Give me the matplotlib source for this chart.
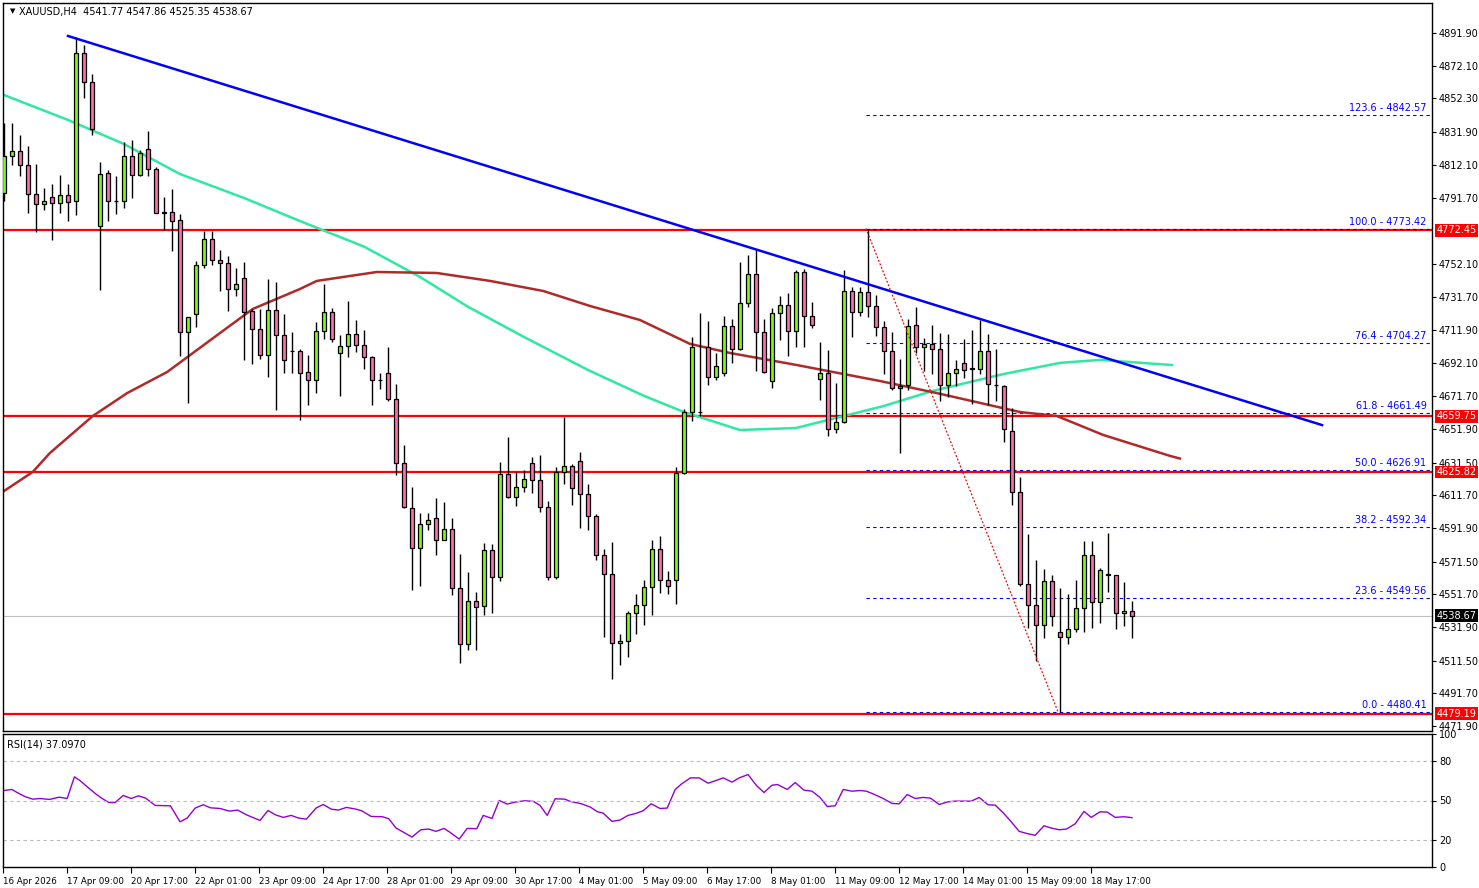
import numpy as np
import matplotlib.pyplot as plt

# ── OHLC data (XAUUSD H4) ─────────────────────────────────────────
opens = [4795.0, 4817.5, 4820.3, 4811.9, 4794.1, 4788.5, 4792.4, 4788.8, 4793.6, 4790.2,
         4879.6, 4862.1, 4774.7, 4807.1, 4790.2, 4790.2, 4817.5, 4805.7, 4821.8, 4809.4,
         4783.1, 4783.4, 4778.6, 4710.7, 4721.4, 4751.3, 4767.1, 4754.1, 4752.4, 4736.6,
         4743.4, 4723.6, 4712.3, 4696.6, 4724.2, 4709.0, 4699.1, 4699.1, 4686.4, 4681.6,
         4711.2, 4723.1, 4697.7, 4702.5, 4709.8, 4702.8, 4695.7, 4681.6, 4685.6, 4670.3,
         4631.4, 4604.1, 4579.8, 4594.2, 4598.1, 4584.9, 4591.1, 4555.3, 4521.7, 4547.4,
         4544.8, 4578.7, 4562.3, 4624.9, 4610.8, 4616.5, 4631.4, 4620.7, 4604.9, 4562.3,
         4625.8, 4629.2, 4632.8, 4612.5, 4599.0, 4575.6, 4563.7, 4522.0, 4523.4, 4540.3,
         4545.4, 4556.1, 4579.2, 4560.1, 4560.1, 4625.2, 4662.4, 4662.0, 4701.9, 4683.6,
         4685.8, 4714.6, 4700.5, 4728.1, 4745.6, 4710.7, 4680.8, 4722.2, 4727.3, 4711.2,
         4747.0, 4720.2, 4682.2, 4685.6, 4652.0, 4655.9, 4735.7, 4723.1, 4735.2, 4726.7,
         4713.8, 4699.1, 4678.0, 4678.5, 4715.2, 4701.9, 4703.3, 4700.5, 4678.5, 4685.6,
         4692.0, 4688.6, 4688.4, 4699.1, 4678.5, 4678.0, 4650.6, 4613.9, 4558.1, 4545.4,
         4533.3, 4559.5, 4529.0, 4525.7, 4530.7, 4543.1, 4575.6, 4546.8, 4563.4, 4563.4,
         4540.3, 4541.77]
highs = [4837.3, 4837.3, 4830.2, 4823.2, 4812.7, 4797.8, 4800.6, 4805.7, 4800.6, 4889.4,
         4884.6, 4866.9, 4813.9, 4809.1, 4805.4, 4826.0, 4827.4, 4821.2, 4832.5, 4810.5,
         4792.7, 4797.2, 4782.3, 4719.7, 4753.5, 4771.8, 4771.8, 4760.6, 4756.9, 4749.3,
         4753.2, 4724.5, 4724.5, 4742.8, 4740.8, 4721.6, 4710.9, 4700.5, 4696.8, 4716.9,
         4740.0, 4725.3, 4709.0, 4729.5, 4718.3, 4711.8, 4696.3, 4685.6, 4701.6, 4679.1,
         4642.1, 4616.5, 4601.0, 4601.0, 4610.3, 4607.4, 4598.1, 4576.4, 4565.1, 4553.0,
         4582.6, 4582.1, 4632.0, 4646.9, 4625.8, 4627.2, 4635.1, 4636.2, 4608.0, 4628.6,
         4659.0, 4630.8, 4637.9, 4618.7, 4600.4, 4579.2, 4583.5, 4527.6, 4541.7, 4551.6,
         4560.1, 4584.9, 4586.9, 4565.7, 4628.6, 4663.8, 4707.5, 4722.5, 4717.4, 4698.2,
         4720.2, 4718.5, 4753.2, 4757.5, 4761.1, 4718.8, 4725.3, 4732.4, 4734.3, 4748.4,
         4749.0, 4728.7, 4704.7, 4699.9, 4679.9, 4748.4, 4738.0, 4738.0, 4773.4, 4732.9,
         4717.4, 4710.9, 4694.3, 4718.8, 4725.9, 4707.0, 4715.2, 4710.4, 4709.8, 4694.0,
         4706.7, 4711.8, 4718.0, 4709.8, 4700.5, 4678.5, 4664.7, 4622.9, 4588.3, 4572.2,
         4567.1, 4563.2, 4555.3, 4551.6, 4560.1, 4584.3, 4584.3, 4567.4, 4589.1, 4563.4,
         4558.9, 4547.86]
lows = [4790.2, 4811.9, 4805.4, 4782.8, 4771.6, 4784.5, 4766.8, 4782.8, 4778.0, 4781.4,
        4852.8, 4830.2, 4736.3, 4778.3, 4782.3, 4785.7, 4792.1, 4805.4, 4805.4, 4782.8,
        4772.4, 4759.7, 4696.0, 4667.5, 4714.0, 4749.3, 4751.3, 4735.5, 4723.3, 4732.4,
        4694.0, 4691.2, 4694.3, 4683.6, 4663.3, 4685.8, 4685.8, 4657.4, 4666.7, 4673.7,
        4706.7, 4704.7, 4671.7, 4695.4, 4698.5, 4688.4, 4666.7, 4676.2, 4668.9, 4623.8,
        4604.1, 4554.4, 4556.7, 4590.5, 4575.6, 4584.9, 4551.0, 4510.1, 4517.8, 4518.0,
        4539.2, 4540.3, 4559.5, 4610.3, 4605.2, 4613.6, 4613.1, 4601.8, 4560.1, 4560.9,
        4618.7, 4606.0, 4591.9, 4590.5, 4572.2, 4525.7, 4500.3, 4508.7, 4513.5, 4527.9,
        4533.3, 4539.2, 4552.4, 4551.6, 4546.0, 4624.4, 4656.8, 4659.6, 4678.5, 4681.9,
        4684.1, 4692.0, 4699.9, 4725.9, 4687.0, 4685.6, 4676.5, 4706.1, 4696.3, 4701.9,
        4701.9, 4713.2, 4669.5, 4647.5, 4649.2, 4655.4, 4707.5, 4720.2, 4719.7, 4708.4,
        4685.0, 4675.7, 4637.6, 4675.7, 4698.2, 4687.0, 4685.0, 4668.9, 4671.5, 4677.9,
        4683.0, 4667.2, 4685.0, 4666.7, 4668.9, 4644.1, 4606.0, 4556.7, 4531.3, 4511.0,
        4525.1, 4532.7, 4480.4, 4521.4, 4529.0, 4529.0, 4531.3, 4534.1, 4553.3, 4530.7,
        4532.7, 4525.35]
closes = [4817.5, 4820.3, 4811.9, 4794.1, 4788.5, 4790.2, 4788.8, 4793.6, 4789.6, 4879.6,
          4862.1, 4833.9, 4806.8, 4789.9, 4790.0, 4817.5, 4806.2, 4819.5, 4809.4, 4783.1,
          4783.0, 4778.3, 4710.7, 4719.7, 4751.3, 4767.1, 4754.1, 4752.4, 4736.6, 4739.7,
          4722.8, 4712.3, 4696.6, 4724.2, 4709.0, 4694.0, 4699.0, 4685.8, 4681.6, 4711.2,
          4723.1, 4706.7, 4702.5, 4709.8, 4702.8, 4695.7, 4681.6, 4681.5, 4670.3, 4631.4,
          4604.6, 4579.8, 4594.2, 4596.7, 4584.9, 4591.1, 4555.3, 4521.7, 4547.4, 4543.7,
          4578.7, 4562.3, 4624.9, 4610.8, 4616.5, 4621.8, 4620.7, 4604.9, 4562.3, 4625.8,
          4629.2, 4615.9, 4612.5, 4599.0, 4575.6, 4563.7, 4522.0, 4523.4, 4540.3, 4545.4,
          4556.1, 4579.2, 4560.1, 4556.7, 4625.2, 4662.4, 4701.9, 4662.4, 4683.6, 4690.1,
          4714.6, 4700.5, 4728.1, 4745.6, 4710.7, 4686.4, 4722.2, 4727.3, 4711.2, 4747.0,
          4720.2, 4715.2, 4685.6, 4652.0, 4655.9, 4735.7, 4723.1, 4734.9, 4726.7, 4713.8,
          4699.1, 4676.5, 4677.0, 4714.6, 4701.9, 4703.3, 4700.5, 4678.5, 4685.6, 4688.4,
          4687.8, 4688.4, 4699.1, 4679.3, 4678.4, 4652.0, 4613.9, 4558.1, 4545.4, 4533.3,
          4559.5, 4538.3, 4525.7, 4530.7, 4543.1, 4575.6, 4546.8, 4566.3, 4563.3, 4540.3,
          4541.7, 4538.67]

# moving averages, sampled along the drawn lines (bar index, price)
ma_fast_idx = [0, 8, 15, 22, 30, 37, 45, 52, 58, 65, 73, 80, 85, 92, 99, 105, 110, 116, 125,
               132, 137, 146]
ma_fast_val = [4854.4, 4839.3, 4824.7, 4806.5, 4792.0, 4778.0, 4762.5, 4744.1, 4726.0, 4707.7,
               4687.7, 4672.0, 4662.2, 4651.3, 4652.5, 4659.8, 4665.9, 4674.9, 4685.3, 4692.0,
               4693.8, 4690.7]
ma_slow_idx = [0, 3.6, 5.75, 11.1, 15.4, 20.4, 27, 31.1, 37, 39.1, 46.6, 54.1, 60.75, 67.4,
               73.25, 79.5, 85.75, 90.75, 99.1, 109.5, 116.6, 127, 131.6, 137.4, 145.75, 147]
ma_slow_val = [4614.3, 4625.9, 4637.4, 4659.8, 4673.7, 4686.5, 4710.1, 4724.7, 4736.8, 4741.7,
               4747.1, 4746.5, 4741.7, 4735.6, 4726.5, 4718.0, 4703.5, 4698.0, 4690.7, 4681.0,
               4673.7, 4662.2, 4659.8, 4648.3, 4635.6, 4634.0]

# RSI(14), sampled along the drawn line
rsi_idx = [0, 1, 1.4, 2.6, 3.6, 4.5, 5.7, 6.9, 7.9, 8.8, 9.5, 10.5, 11.5, 12.2, 13.1, 13.9, 14.9,
           15.9, 16.8, 17.7, 18.9, 20.8, 22.0, 22.9, 23.9, 24.9, 25.8, 27.0, 28.2, 29.2, 30.4,
           32.0, 33.0, 33.9, 34.9, 35.9, 36.8, 37.8, 39.0, 39.9, 40.9, 41.8, 42.8, 44.0, 44.7,
           45.9, 47.3, 48.1, 49.0, 51.0, 52.1, 53.1, 54.0, 55.0, 55.7, 56.9, 57.9, 59.1, 59.9,
           61.0, 61.9, 62.9, 63.9, 65.1, 66.2, 67.0, 67.9, 68.9, 70.1, 70.8, 72.2, 73.3, 74.2,
           74.9, 76.0, 77.0, 78.0, 79.0, 79.9, 80.9, 82.0, 82.9, 83.9, 84.7, 85.8, 86.9, 88.0,
           89.0, 89.9, 91.0, 91.9, 93.0, 94.1, 95.0, 96.0, 96.7, 97.9, 98.9, 100.0, 101.0,
           102.0, 102.9, 103.9, 104.9, 106.0, 107.0, 107.8, 108.7, 109.9, 111.0, 111.9, 112.9,
           113.9, 114.9, 115.8, 116.9, 118.0, 118.9, 120.9, 121.9, 123.0, 123.9, 124.9, 125.9,
           126.9, 127.8, 128.9, 130.0, 130.9, 131.9, 132.8, 133.9, 135.0, 135.9, 137.0, 137.9,
           138.9, 140.0, 141.0]
rsi_val = [57.5, 58.3, 56.8, 53.0, 51.0, 51.5, 50.8, 52.5, 51.5, 67.8, 65.0, 59.8, 54.8, 51.8,
           48.5, 48.5, 53.8, 51.5, 53.5, 51.8, 46.3, 46.0, 34.0, 36.8, 44.3, 46.8, 44.5, 44.0,
           42.0, 42.8, 39.0, 35.0, 42.5, 39.3, 37.3, 38.8, 36.8, 36.0, 44.3, 47.0, 43.5, 42.8,
           44.8, 43.5, 42.3, 38.0, 37.8, 36.3, 29.3, 22.5, 28.0, 28.5, 26.8, 29.0, 26.3, 21.0,
           29.0, 28.8, 38.8, 36.5, 50.0, 47.3, 48.8, 49.8, 49.3, 46.3, 38.8, 51.3, 51.0, 49.3,
           47.5, 45.0, 41.5, 40.5, 34.3, 35.3, 38.8, 40.3, 42.3, 47.5, 44.0, 44.3, 58.3, 62.5,
           67.0, 67.0, 63.0, 65.0, 67.0, 63.8, 67.0, 69.5, 61.0, 56.0, 61.5, 62.0, 58.3, 63.5,
           57.8, 57.0, 52.3, 45.5, 46.0, 58.3, 57.0, 57.5, 57.0, 54.8, 51.5, 47.8, 47.5, 54.5,
           51.5, 52.3, 51.8, 47.0, 49.0, 49.5, 49.5, 52.3, 46.8, 46.5, 40.8, 34.0, 26.8, 25.3,
           23.8, 31.0, 29.3, 28.0, 28.5, 32.5, 41.8, 37.3, 41.5, 41.3, 37.3, 37.8, 37.1]

# levels
red_levels = [4772.45, 4659.75, 4625.82, 4479.19]
fib_pct = ["123.6", "100.0", "76.4", "61.8", "50.0", "38.2", "23.6", "0.0"]
fib_vals = [4842.57, 4773.42, 4704.27, 4661.49, 4626.91, 4592.34, 4549.56, 4480.41]
last_price = 4538.67

y_ticks = [4891.90, 4872.10, 4852.30, 4831.90, 4812.10, 4791.70, 4752.10, 4731.70, 4711.90,
           4692.10, 4671.70, 4651.90, 4631.50, 4611.70, 4591.90, 4571.50, 4551.70, 4531.90,
           4511.50, 4491.70, 4471.90]
x_labels = ["16 Apr 2026", "17 Apr 09:00", "20 Apr 17:00", "22 Apr 01:00", "23 Apr 09:00",
            "24 Apr 17:00", "28 Apr 01:00", "29 Apr 09:00", "30 Apr 17:00", "4 May 01:00",
            "5 May 09:00", "6 May 17:00", "8 May 01:00", "11 May 09:00", "12 May 17:00",
            "14 May 01:00", "15 May 09:00", "18 May 17:00"]

# trend line and fib swing (bar index, price)
trend_x = [8, 164.75]
trend_y = [4890.2, 4654.3]
swing_x = [107.75, 131.75]
swing_y = [4773.42, 4480.41]

# ── FIGURE ───────────────────────────────────────────────────────
W, H = 1479, 888
fig = plt.figure(figsize=(W / 100, H / 100), dpi=100)
ax = fig.add_axes([3 / W, 1 - 731 / H, 1429 / W, 728 / H])
ax2 = fig.add_axes([3 / W, 1 - 867 / H, 1429 / W, 133 / H])

FS = 7
n = len(opens)
idx = np.arange(n)
o, h, l, c = map(np.array, (opens, highs, lows, closes))
up = c >= o

ax.vlines(idx, l, h, color="black", linewidth=1, zorder=3)
body_lo = np.minimum(o, c)
body_h = np.maximum(np.abs(c - o), 0.4)
ax.bar(idx, body_h, bottom=body_lo, width=0.62,
       color=np.where(up, "#7CFC00", "#FF69B4"), edgecolor="black", linewidth=0.9, zorder=4)

ax.plot(ma_fast_idx, ma_fast_val, color="#2FE8A2", linewidth=1.8, zorder=2)
ax.plot(ma_slow_idx, ma_slow_val, color="#B02A2A", linewidth=1.8, zorder=2)
ax.plot(trend_x, trend_y, color="#0000FF", linewidth=1.8, zorder=5)
ax.plot(swing_x, swing_y, color="red", linewidth=0.9, linestyle=(0, (1.5, 1.5)), zorder=5)

xmin, xmax = -0.125, 178.5
for lv in red_levels:
    ax.axhline(lv, color="red", linewidth=1.6, zorder=1)
ax.axhline(last_price, color="#C0C0C0", linewidth=0.8, zorder=0)

for pct, v in zip(fib_pct, fib_vals):
    ax.hlines(v, swing_x[0], xmax, color="#0000FF", linewidth=0.8, linestyles=(0, (3, 3)), zorder=1)
    ax.text(177.8, v + 1.2, f"{pct} - {v:.2f}", color="#0000FF", fontsize=FS,
            ha="right", va="bottom", zorder=6)

ax.set_xlim(xmin, xmax)
ax.set_ylim(4468.8, 4910.2)
ax.yaxis.tick_right()
ax.set_yticks(y_ticks)
ax.set_yticklabels([f"{v:.2f}" for v in y_ticks], fontsize=FS)
ax.tick_params(axis="y", length=3, pad=2)
ax.set_xticks([])

for lv in red_levels:
    ax.text(1.003, lv, f"{lv:.2f}", transform=ax.get_yaxis_transform(), fontsize=FS,
            color="white", va="center", ha="left",
            bbox=dict(boxstyle="square,pad=0.15", fc="red", ec="none"), clip_on=False)
ax.text(1.003, last_price, f"{last_price:.2f}", transform=ax.get_yaxis_transform(), fontsize=FS,
        color="white", va="center", ha="left",
        bbox=dict(boxstyle="square,pad=0.15", fc="black", ec="none"), clip_on=False)

ax.text(0.005, 0.993, "\u25BC", transform=ax.transAxes, fontsize=5, va="top", ha="left")
ax.text(0.011, 0.995, "XAUUSD,H4  4541.77 4547.86 4525.35 4538.67", transform=ax.transAxes,
        fontsize=FS, va="top", ha="left")

# RSI panel
ax2.plot(rsi_idx, rsi_val, color="#9400D3", linewidth=1)
for g in (20, 50, 80):
    ax2.axhline(g, color="#BBBBBB", linewidth=0.8, linestyle=(0, (3, 3)))
ax2.set_xlim(xmin, xmax)
ax2.set_ylim(0, 100)
ax2.yaxis.tick_right()
ax2.set_yticks([0, 20, 50, 80, 100])
ax2.set_yticklabels(["0", "20", "50", "80", "100"], fontsize=FS)
ax2.tick_params(axis="y", length=3, pad=2)
ax2.set_xticks(np.arange(0, 8 * len(x_labels), 8) - 0.1)
ax2.set_xticklabels(x_labels, fontsize=6.3, ha="left")
for t in ax2.get_xticklabels():
    t.set_x(t.get_position()[0])
ax2.tick_params(axis="x", length=4, pad=3)
ax2.text(0.003, 0.96, "RSI(14) 37.0970", transform=ax2.transAxes, fontsize=FS, va="top", ha="left")

for a in (ax, ax2):
    for s in a.spines.values():
        s.set_linewidth(1)

fig.savefig("out.png", dpi=100)
